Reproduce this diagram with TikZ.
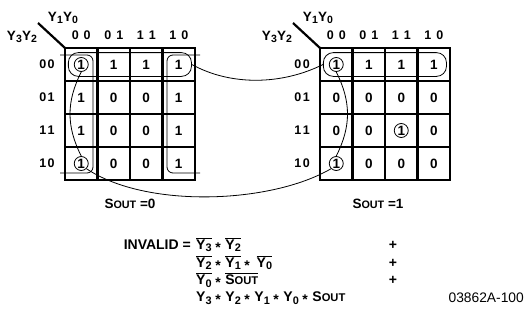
\documentclass[tikz,border=0pt]{standalone}
\usepackage{fontspec}
\setmainfont{Liberation Sans}
\usepackage{graphicx}
\usetikzlibrary{calc,fit,positioning}

\newcommand\Ysub[1]{Y\kern0.2pt\raisebox{-0.35ex}{\scalebox{0.78}{#1}}}
\newcommand\Sout{S\scalebox{0.8}{OUT}}
\newcommand\inv[1]{$\overline{\mbox{#1}}$}
\newcommand\Ast{\kern3.5pt\raisebox{-0.4ex}{*}\kern4.5pt}
\def\headdig#1#2{#1\kern5pt#2}
\def\rowdig#1#2{#1\kern1.5pt#2}
\def\cw{32.5}
\def\ch{33}

\begin{document}
\begin{tikzpicture}[x=1pt, y=-1pt,
    grid/.style={line width=2.2pt},
    loop/.style={line width=0.8pt, rounded corners=6pt},
    link/.style={line width=0.8pt},
    bare/.style={circle, inner sep=0pt, minimum size=14pt, font=\bfseries\fontsize{13.5}{15}\selectfont},
    ring/.style={bare, draw, line width=0.8pt},
    head/.style={font=\bfseries\fontsize{12.5}{14}\selectfont},
    vars/.style={font=\bfseries\fontsize{13.5}{15}\selectfont},
    eqn/.style={font=\bfseries\fontsize{14}{16}\selectfont, inner sep=0pt}]
    \useasboundingbox (0,0) rectangle (524,324);
    % maps
    \foreach \m/\ox in {L/65, R/320}{
        \path[draw, grid] (\ox,48) rectangle +(130,132);
        \foreach \i in {1,2,3}{
            \path[draw, grid] (\ox+\i*\cw,48) -- +(0,132);
            \path[draw, grid] (\ox,48+\i*\ch) -- +(130,0);
        }
        \path[draw, grid] (\ox,48) -- +(-27,-25);
        \node[vars] (\m-y10) at (\ox-2,18) {\Ysub{1}\Ysub{0}};
        \node[vars] (\m-y32) at (\ox-43,37) {\Ysub{3}\Ysub{2}};
        \foreach \b [count=\i from 0] in {00,01,11,10}{
            \node[head] (\m-col-\i) at (\ox+\i*\cw+0.5*\cw,35) {\expandafter\headdig\b};
            \node[head] (\m-row-\i) at (\ox-18,48+\i*\ch+0.5*\ch) {\expandafter\rowdig\b};
        }
    }
    % cell values
    \def\valsL{1/ring,1/bare,1/bare,1/bare,1/bare,0/bare,0/bare,1/bare,1/bare,0/bare,0/bare,1/bare,1/ring,0/bare,0/bare,1/bare}
    \def\valsR{1/ring,1/bare,1/bare,1/bare,0/bare,0/bare,0/bare,0/bare,0/bare,0/bare,1/ring,0/bare,1/ring,0/bare,0/bare,0/bare}
    \foreach \v/\s [count=\k from 0] in \valsL{
        \pgfmathtruncatemacro\r{\k/4}
        \pgfmathtruncatemacro\c{\k-4*\r}
        \node[\s] (L-\r-\c) at (65+\c*\cw+0.5*\cw,48+\r*\ch+0.5*\ch) {\v};
    }
    \foreach \v/\s [count=\k from 0] in \valsR{
        \pgfmathtruncatemacro\r{\k/4}
        \pgfmathtruncatemacro\c{\k-4*\r}
        \node[\s] (R-\r-\c) at (320+\c*\cw+0.5*\cw,48+\r*\ch+0.5*\ch) {\v};
    }
    % groups
    \node[draw, line width=0.8pt, rounded corners=10pt, inner xsep=5.5pt, inner ysep=4.5pt, fit=(L-0-0)(L-0-3)] (Lrow) {};
    \node[draw, line width=0.8pt, rounded corners=10pt, inner xsep=5.5pt, inner ysep=4.5pt, fit=(R-0-0)(R-0-3)] (Rrow) {};
    \path[draw, loop] (60,55) -- (93,55) -- (93,173) -- (60,173);
    \path[draw, loop] (200,55) -- (167,55) -- (167,173) -- (200,173);
    % links
    \path[draw, link] (L-0-0.south) .. controls +(-15,30) and +(-15,-30) .. (L-3-0.north);
    \path[draw, link] (R-0-0.south) .. controls +(15,30) and +(15,-30) .. (R-3-0.north);
    \path[draw, link] (Lrow.east) .. controls +(40,22) and +(-40,20) .. (Rrow.west);
    \path[draw, link] (L-3-0.south east) .. controls +(60,40) and +(-60,35) .. (R-3-0.south west);
    % map titles
    \node[vars] (Lsout) at (130,204) {\Sout\ =0};
    \node[vars] (Rsout) at (378,204) {\Sout\ =1};
    % equation
    \node[eqn, anchor=east] (inv) at (191,245) {INVALID =};
    \node[eqn, anchor=west] (t1) at (196,245) {\inv{\Ysub{3}}\Ast\inv{\Ysub{2}}};
    \node[eqn, anchor=west] (t2) at (196,263) {\inv{\Ysub{2}}\Ast\inv{\Ysub{1}}\Ast\,\inv{\Ysub{0}}};
    \node[eqn, anchor=west] (t3) at (196,280) {\inv{\Ysub{0}}\Ast\inv{\Sout}};
    \node[eqn, anchor=west] (t4) at (196,298) {\Ysub{3}\Ast\Ysub{2}\Ast\Ysub{1}\Ast\Ysub{0}\Ast\Sout};
    \foreach \y [count=\i] in {245,263,280}{
        \node[eqn] (p\i) at (393,\y) {+};
    }
    \node[font=\fontsize{13.8}{16}\selectfont, anchor=east, inner sep=0pt] (fig) at (524,298) {03862A-100};
\end{tikzpicture}
\end{document}
